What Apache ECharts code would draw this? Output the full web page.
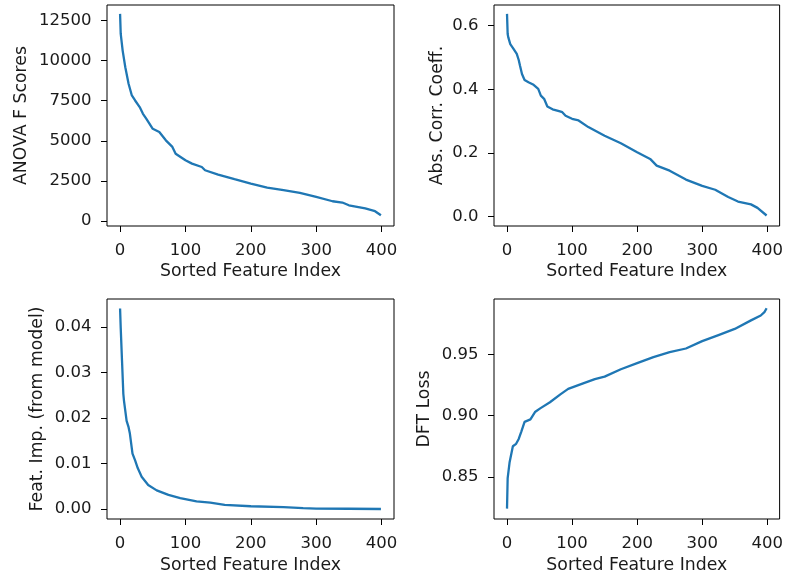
<!DOCTYPE html>
<html>
<head>
<meta charset="utf-8">
<script src="https://cdn.jsdelivr.net/npm/echarts@6/dist/echarts.min.js"></script>
<style>
  html, body { margin: 0; padding: 0; background: #fff; }
  #chart { width: 786px; height: 575px; }
</style>
</head>
<body>
<div id="chart"></div>
<script>
// Sorted per-feature scores (index -> value)
const anovaIdx  = [0, 1, 4, 8, 13, 18, 23, 30, 35, 40, 50, 60, 70, 80, 85, 100, 110, 125, 130, 150, 175, 200, 225, 250, 275, 300, 325, 340, 350, 375, 390, 399];
const anovaVals = [12900, 11650, 10600, 9580, 8550, 7820, 7510, 7100, 6680, 6380, 5750, 5550, 5030, 4620, 4200, 3790, 3580, 3370, 3170, 2900, 2610, 2340, 2090, 1925, 1760, 1510, 1240, 1160, 990, 790, 620, 370];

const corrIdx  = [0, 1, 2, 5, 10, 15, 18, 20, 23, 27, 33, 40, 48, 52, 57, 62, 70, 80, 85, 90, 100, 110, 125, 150, 175, 200, 220, 230, 250, 275, 300, 320, 340, 355, 375, 385, 399];
const corrVals = [0.637, 0.574, 0.563, 0.542, 0.527, 0.511, 0.492, 0.474, 0.448, 0.429, 0.422, 0.415, 0.401, 0.380, 0.370, 0.346, 0.337, 0.331, 0.328, 0.317, 0.307, 0.302, 0.281, 0.254, 0.230, 0.202, 0.181, 0.160, 0.144, 0.116, 0.096, 0.084, 0.061, 0.047, 0.038, 0.027, 0.003];

const impIdx  = [0, 1, 3, 5, 6, 10, 13, 15, 19, 23, 27, 33, 43, 56, 74, 92, 117, 138, 160, 200, 250, 280, 300, 350, 399];
const impVals = [0.0441, 0.0398, 0.0325, 0.0253, 0.0238, 0.0194, 0.0180, 0.0166, 0.0122, 0.0107, 0.0090, 0.0071, 0.0053, 0.0041, 0.0031, 0.0024, 0.0017, 0.0014, 0.0009, 0.0006, 0.0004, 0.0002, 0.0001, 0.00005, 0.0];

const dftIdx  = [0, 1, 4, 9, 14, 18, 22, 27, 36, 43, 51, 66, 82, 94, 117, 135, 150, 175, 200, 225, 250, 275, 300, 325, 350, 375, 390, 396, 399];
const dftVals = [0.824, 0.849, 0.862, 0.875, 0.877, 0.881, 0.887, 0.895, 0.897, 0.903, 0.906, 0.911, 0.9175, 0.922, 0.9265, 0.930, 0.932, 0.938, 0.943, 0.948, 0.952, 0.955, 0.961, 0.966, 0.971, 0.978, 0.982, 0.985, 0.988];

// Tick positions
const xTicks     = [0, 100, 200, 300, 400];
const anovaTicks = [0, 2500, 5000, 7500, 10000, 12500];
const corrTicks  = [0.0, 0.2, 0.4, 0.6];
const impTicks   = [0.00, 0.01, 0.02, 0.03, 0.04];
const dftTicks   = [0.85, 0.90, 0.95];

const FONT = 'DejaVu Sans';
const FS_TICK = 16.5;
const FS_NAME = 17.3;
const TXT = '#1a1a1a';
const LINE = '#1f77b4';

function pairs(xs, ys) { return xs.map((x, i) => [x, ys[i]]); }

const grids = [
  { left: 107, top: 5,   width: 287, height: 221 },
  { left: 494, top: 5,   width: 288, height: 221 },
  { left: 107, top: 299, width: 287, height: 221 },
  { left: 494, top: 299, width: 288, height: 221 }
].map(g => Object.assign({ show: true, borderColor: '#000', borderWidth: 1, containLabel: false }, g));

function xAxis(gi, nameGap) {
  return {
    type: 'value', gridIndex: gi, min: -20, max: 419,
    name: 'Sorted Feature Index', nameLocation: 'middle', nameGap: nameGap,
    nameTextStyle: { fontFamily: FONT, fontSize: FS_NAME, color: TXT },
    axisLine: { show: false, onZero: false },
    axisTick: { show: true, length: 6, customValues: xTicks, lineStyle: { color: '#000', width: 1 } },
    axisLabel: { customValues: xTicks, margin: 16, fontFamily: FONT, fontSize: FS_TICK, color: TXT },
    splitLine: { show: false }
  };
}

function yAxis(gi, min, max, ticks, digits, name, nameGap) {
  return {
    type: 'value', gridIndex: gi, min: min, max: max,
    name: name, nameLocation: 'middle', nameGap: nameGap,
    nameTextStyle: { fontFamily: FONT, fontSize: FS_NAME, color: TXT },
    axisLine: { show: false, onZero: false },
    axisTick: { show: true, length: 6, customValues: ticks, lineStyle: { color: '#000', width: 1 } },
    axisLabel: {
      customValues: ticks, margin: 15.5, fontFamily: FONT, fontSize: FS_TICK, color: TXT,
      formatter: v => Number(v).toFixed(digits)
    },
    splitLine: { show: false }
  };
}

function lineSeries(i, data) {
  return {
    type: 'line', xAxisIndex: i, yAxisIndex: i, data: data,
    showSymbol: false, symbol: 'none', smooth: false,
    lineStyle: { color: LINE, width: 2.3 }, silent: true
  };
}

const option = {
  animation: false,
  backgroundColor: '#fff',
  grid: grids,
  xAxis: [xAxis(0, 37), xAxis(1, 37), xAxis(2, 38), xAxis(3, 38)],
  yAxis: [
    yAxis(0, -300, 13450, anovaTicks, 0, 'ANOVA F Scores', 77),
    yAxis(1, -0.03, 0.665, corrTicks, 1, 'Abs. Corr. Coeff.', 48),
    yAxis(2, -0.0022, 0.0462, impTicks, 2, 'Feat. Imp. (from model)', 61),
    yAxis(3, 0.8155, 0.9955, dftTicks, 2, 'DFT Loss', 61)
  ],
  series: [
    lineSeries(0, pairs(anovaIdx, anovaVals)),
    lineSeries(1, pairs(corrIdx, corrVals)),
    lineSeries(2, pairs(impIdx, impVals)),
    lineSeries(3, pairs(dftIdx, dftVals))
  ]
};

const chart = echarts.init(document.getElementById('chart'), null, { renderer: 'canvas' });
chart.setOption(option);
</script>
</body>
</html>
